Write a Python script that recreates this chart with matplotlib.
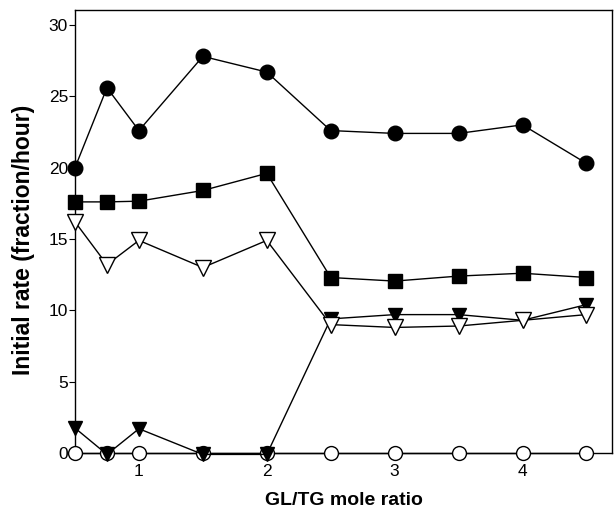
import matplotlib
matplotlib.use("Agg")
import matplotlib.pyplot as plt

plt.rcParams['font.family'] = ['Liberation Sans', 'DejaVu Sans']

ratio = [0.5, 0.75, 1.0, 1.5, 2.0, 2.5, 3.0, 3.5, 4.0, 4.5]
filled_circle = [20.0, 25.6, 22.6, 27.8, 26.7, 22.6, 22.4, 22.4, 23.0, 20.3]
filled_square = [17.6, 17.6, 17.65, 18.4, 19.6, 12.3, 12.05, 12.4, 12.6, 12.3]
open_triangle = [16.2, 13.2, 14.9, 13.0, 14.9, 9.0, 8.8, 8.9, 9.3, 9.7]
filled_triangle = [1.75, -0.1, 1.7, -0.1, -0.1, 9.4, 9.7, 9.7, 9.3, 10.4]
open_circle = [0, 0, 0, 0, 0, 0, 0, 0, 0, 0]

xticks = [1, 2, 3, 4]
yticks = [0, 5, 10, 15, 20, 25, 30]

fig = plt.figure(figsize=(6.16, 5.15), dpi=100)
ax = fig.add_axes([75/616, 1-453/515, (612-75)/616, (453-10)/515])

kw = dict(color='black', lw=1.0, clip_on=False)
ax.plot(ratio, open_circle, marker='o', ms=10, mfc='white', mec='black', mew=1.0, zorder=3, **kw)
ax.plot(ratio, filled_triangle, marker='v', ms=10.5, mfc='black', mec='black', zorder=4, **kw)
ax.plot(ratio, open_triangle, marker='v', ms=11.5, mfc='white', mec='black', mew=1.0, zorder=5, **kw)
ax.plot(ratio, filled_square, marker='s', ms=9.5, mfc='black', mec='black', zorder=4, **kw)
ax.plot(ratio, filled_circle, marker='o', ms=10.5, mfc='black', mec='black', zorder=4, **kw)

ax.set_xlim(0.5, 4.7)
ax.set_ylim(0, 31.05)
ax.set_xticks(xticks)
ax.set_yticks(yticks)
ax.tick_params(axis='x', length=0, pad=8, labelsize=12.5)
ax.tick_params(axis='y', length=4, direction='out', pad=1, labelsize=12.5)
for s in ax.spines.values():
    s.set_linewidth(1.0)

ax.set_xlabel('GL/TG mole ratio', fontsize=14, fontweight='bold', labelpad=9)
ax.set_ylabel('Initial rate (fraction/hour)', fontsize=16.5, fontweight='bold')
ax.yaxis.set_label_coords(-0.075, 0.48)

fig.savefig('out.png', dpi=100)
